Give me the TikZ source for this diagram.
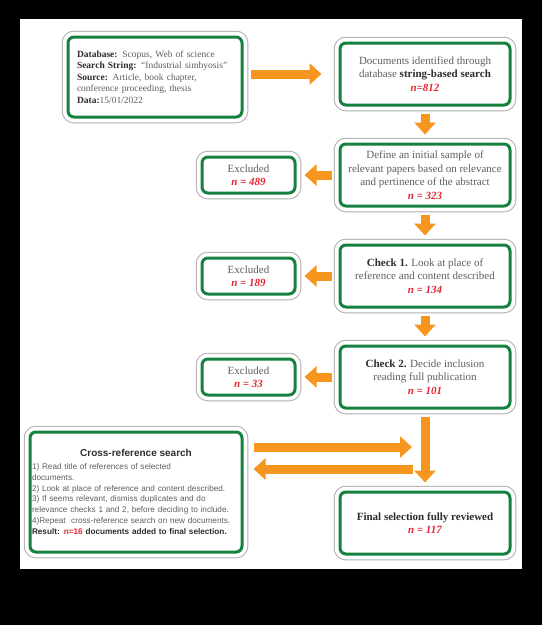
\documentclass[tikz,border=0pt]{standalone}
\usepackage{fontspec}
\setmainfont{Liberation Serif}
\newfontfamily\xsans{Liberation Sans}
\usepackage{tikz}
\usetikzlibrary{arrows.meta,positioning}

\definecolor{boxgreen}{RGB}{22,128,62}
\definecolor{ringgray}{RGB}{175,175,175}
\definecolor{arrorange}{RGB}{247,150,30}
\definecolor{txtgray}{RGB}{95,95,95}
\definecolor{nred}{RGB}{228,38,52}
\newcommand{\keyw}[1]{\textbf{\color[RGB]{45,45,45}#1}}
\newcommand{\ncount}[1]{\textcolor{nred}{\bfseries\itshape #1}}

\begin{document}
\begin{tikzpicture}[
  x=1pt,y=-1pt,
  node distance=36pt,
  panel/.style={draw=boxgreen,line width=3pt,fill=white,rounded corners=6pt,
    preaction={draw=ringgray,line width=12.5pt},
    preaction={draw=white,line width=10.5pt},
    align=center,text=txtgray,font=\fontsize{11}{13.5}\selectfont,inner sep=2pt},
  mainbox/.style={panel,minimum width=170pt,minimum height=62pt},
  exclbox/.style={panel,minimum width=93pt,minimum height=36pt},
  flow/.style={-{Triangle[width=21pt,length=12pt]},line width=9pt,draw=arrorange,shorten <=7pt,shorten >=8pt}
]
\useasboundingbox (0,0) rectangle (542,625);
\fill[black] (0,0) rectangle (542,625);
\fill[white] (20,19) rectangle (522,569);

% search set-up and first hit
\node[panel,minimum width=174pt,minimum height=80pt,align=left,text width=156pt,inner xsep=8pt,
  font=\fontsize{9.5}{11.6}\selectfont] (src) at (155,77)
  {\keyw{Database:} Scopus, Web of science\\
   \keyw{Search String:} ``Industrial simbyosis''\\
   \keyw{Source:} Article, book chapter,\\
   conference proceeding, thesis\\
   \keyw{Data:}15/01/2022\\[2pt]};
\node[mainbox] (ident) at (425,74)
  {Documents identified through\\database \keyw{string-based search}\\\ncount{n=812}};
\draw[flow,shorten >=17pt] (src.east |- ident.west) -- (ident.west);

% screening steps
\node[mainbox,below=of ident] (screen)
  {Define an initial sample of\\relevant papers based on relevance\\and pertinence of the abstract\\\ncount{n = 323}};
\draw[flow] (ident) -- (screen);
\node[exclbox,left=42pt of screen] (ex1) {Excluded\\\ncount{n = 489}};
\draw[flow] (screen) -- (ex1);

\node[mainbox,below=of screen] (chk1)
  {\keyw{Check 1.} Look at place of\\reference and content described\\\ncount{n = 134}};
\draw[flow] (screen) -- (chk1);
\node[exclbox,left=42pt of chk1] (ex2) {Excluded\\\ncount{n = 189}};
\draw[flow] (chk1) -- (ex2);

\node[mainbox,below=of chk1] (chk2)
  {\keyw{Check 2.} Decide inclusion\\reading full publication\\\ncount{n = 101}};
\draw[flow] (chk1) -- (chk2);
\node[exclbox,left=42pt of chk2] (ex3) {Excluded\\\ncount{n = 33}};
\draw[flow] (chk2) -- (ex3);

% final set and cross-reference loop
\node[mainbox,below=81pt of chk2] (final)
  {\keyw{Final selection fully reviewed}\\\ncount{n = 117}};
\draw[flow] (chk2) -- (final);

\node[panel,minimum width=212pt,minimum height=120pt,align=left,text width=208pt,
  font=\xsans\fontsize{8.2}{10.8}\selectfont] (xref) at (136,492)
  {\makebox[\linewidth][c]{\fontsize{10}{12}\selectfont\keyw{Cross-reference search}}\\[2pt]
   1) Read title of references of selected\\
   documents.\\
   2) Look at place of reference and content described.\\
   3) If seems relevant, dismiss duplicates and do\\
   relevance checks 1 and 2, before deciding to include.\\
   4)Repeat\ \ cross-reference search on new documents.\\
   \keyw{Result: \textcolor{nred}{n=16} documents added to final selection.}\\[4pt]};
\coordinate (loopin) at (420,447);
\coordinate (loopout) at (420,469);
\draw[flow,shorten <=10pt] ([yshift=45pt]xref.east) -- (loopin);
\draw[flow,shorten >=10pt] (loopout) -- ([yshift=23pt]xref.east);
\end{tikzpicture}
\end{document}
